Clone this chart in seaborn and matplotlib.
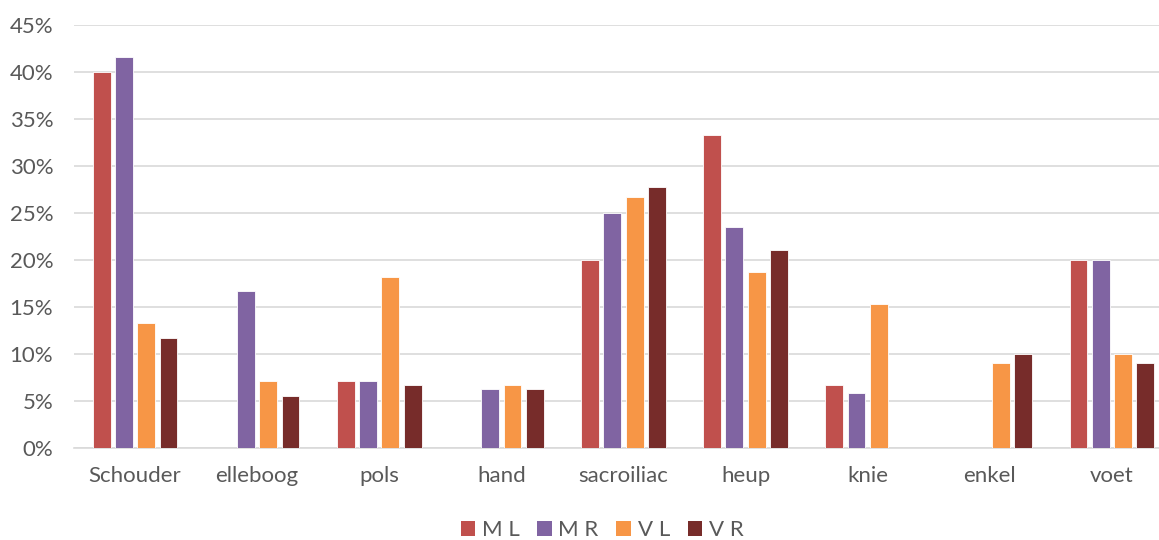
import numpy as np
import pandas as pd
import matplotlib
matplotlib.use("Agg")
import matplotlib.pyplot as plt
import seaborn as sns
from matplotlib.ticker import PercentFormatter, MultipleLocator
from matplotlib.patches import Patch

# Share of complaints per joint region, by group
categories = ["Schouder", "elleboog", "pols", "hand", "sacroiliac", "heup", "knie", "enkel", "voet"]
ml = [40.0, np.nan, 7.14, np.nan, 20.0, 33.33, 6.67, np.nan, 20.0]
mr = [41.67, 16.67, 7.14, 6.25, 25.0, 23.53, 5.88, np.nan, 20.0]
vl = [13.33, 7.14, 18.18, 6.67, 26.67, 18.75, 15.38, 9.09, 10.0]
vr = [11.76, 5.56, 6.67, 6.25, 27.78, 21.05, np.nan, 10.0, 9.09]
series_names = ["M L", "M R", "V L", "V R"]
colors = ["#C0504D", "#8064A2", "#F79646", "#772C2A"]

rows = []
for name, vals in zip(series_names, [ml, mr, vl, vr]):
    for cat, v in zip(categories, vals):
        rows.append({"regio": cat, "groep": name, "pct": v / 100.0})
df = pd.DataFrame(rows)

sns.set_style("white")
plt.rcParams["font.family"] = ["Lato", "DejaVu Sans"]

W, H = 1159, 540
fig = plt.figure(figsize=(W / 100, H / 100), dpi=100)
# plot area runs past the right edge of the canvas
left, right, bottom, top = 74, 74 + 9 * 122.1, 448, 25.3
ax = fig.add_axes([left / W, 1 - bottom / H, (right - left) / W, (bottom - top) / H])

sns.barplot(data=df.dropna(), x="regio", y="pct", hue="groep",
            order=categories, hue_order=series_names, palette=colors,
            width=0.73, gap=0.2, saturation=1, errorbar=None,
            edgecolor="white", linewidth=0.6, legend=False, ax=ax, zorder=3)

ax.set_ylim(0, 0.45)
ax.set_xlim(-0.5, len(categories) - 0.5)
ax.yaxis.set_major_locator(MultipleLocator(0.05))
ax.yaxis.set_major_formatter(PercentFormatter(1.0, decimals=0))
ax.grid(axis="y", color="#D9D9D9", linewidth=1.2, zorder=0)
ax.set_axisbelow(True)
for side in ["top", "right", "left"]:
    ax.spines[side].set_visible(False)
ax.spines["bottom"].set_color("#D9D9D9")
ax.spines["bottom"].set_linewidth(1.2)
ax.tick_params(axis="both", length=0, labelsize=16, labelcolor="#595959")
ax.tick_params(axis="x", pad=13)
ax.tick_params(axis="y", pad=15)
ax.set_xlabel("")
ax.set_ylabel("")

handles = [Patch(facecolor=c, edgecolor="none") for c in colors]
fig.legend(handles, series_names, loc="center", bbox_to_anchor=(602 / W, 1 - 530 / H),
           ncol=4, frameon=False, fontsize=16, labelcolor="#595959",
           handlelength=0.65, handleheight=0.65, handletextpad=0.3, columnspacing=0.8)

fig.savefig("out.png", dpi=100)
